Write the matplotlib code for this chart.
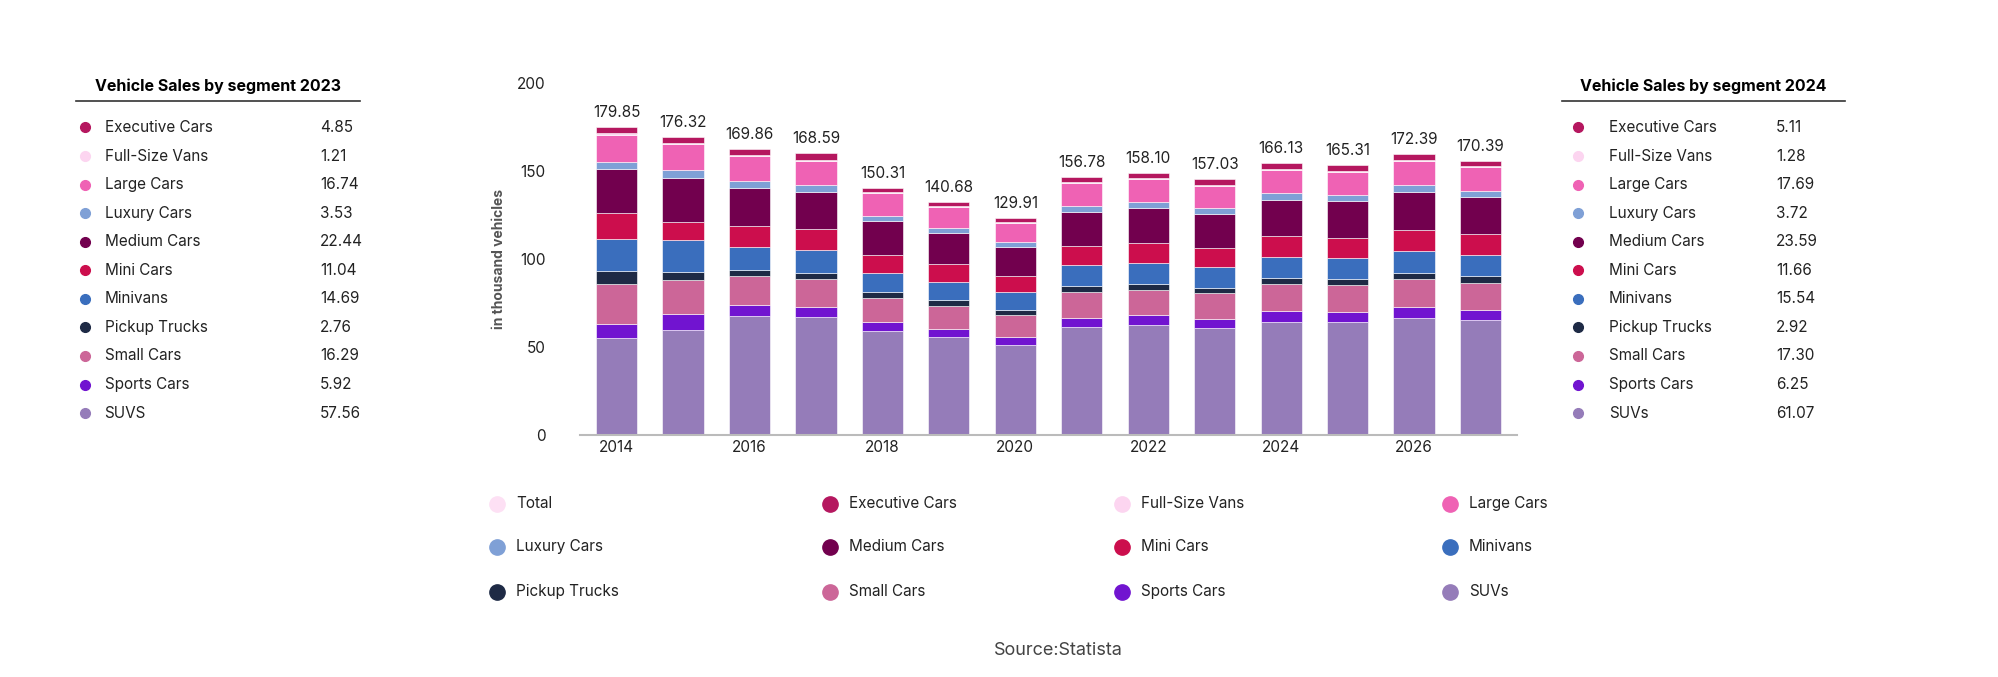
import matplotlib.pyplot as plt
import numpy as np

plt.rcParams['font.family'] = ['Inter', 'DejaVu Sans']

years = list(range(2014, 2028))
totals = ["179.85","176.32","169.86","168.59","150.31","140.68","129.91","156.78","158.10","157.03","166.13","165.31","172.39","170.39"]
segments = ["SUVs","Sports Cars","Small Cars","Pickup Trucks","Minivans","Mini Cars","Medium Cars","Luxury Cars","Large Cars","Full-Size Vans","Executive Cars"]
suvs     = [55.0,59.8,67.7,66.8,58.8,55.4,51.2,61.1,62.4,60.5,64.3,63.9,66.6,65.1]
sports   = [8.0,8.9,6.3,5.9,5.3,4.9,4.6,5.5,5.5,5.5,5.9,5.9,6.1,5.7]
small    = [22.8,19.2,16.1,15.9,13.7,13.1,12.3,14.6,14.6,14.4,15.4,15.2,15.7,15.6]
pickup   = [7.2,4.6,3.6,3.4,3.2,3.0,2.7,3.2,3.4,3.0,3.4,3.4,3.4,3.6]
minivans = [18.0,18.4,13.1,12.9,11.2,10.6,10.1,12.0,11.8,12.0,12.3,12.1,12.7,12.3]
mini     = [15.2,9.9,12.0,11.8,10.2,9.9,9.1,10.6,11.2,10.6,11.4,11.6,12.0,12.0]
medium   = [24.7,25.4,21.6,21.4,19.0,17.5,16.5,19.7,19.9,19.4,20.7,20.5,21.6,20.7]
luxury   = [4.2,4.2,3.8,3.8,3.2,3.2,2.8,3.4,3.6,3.4,3.8,3.6,3.8,3.4]
large    = [15.4,14.8,14.2,13.7,12.7,11.8,11.0,13.1,12.7,12.7,13.3,13.3,13.7,13.7]
fullsize = [0.8,0.8,0.8,0.8,0.6,0.6,0.6,0.6,0.6,0.6,0.6,0.6,0.8,0.8]
execs    = [3.4,3.4,3.4,3.6,2.5,2.5,2.5,2.8,3.2,3.0,3.4,3.2,3.4,2.8]
series = [suvs,sports,small,pickup,minivans,mini,medium,luxury,large,fullsize,execs]
colors = {"SUVs":"#957cb9","Sports Cars":"#7114d0","Small Cars":"#cc6698","Pickup Trucks":"#1e2a45",
          "Minivans":"#3a6ebd","Mini Cars":"#cc0e4d","Medium Cars":"#72004e","Luxury Cars":"#7fa0d6",
          "Large Cars":"#ef62b4","Full-Size Vans":"#fcd5f0","Executive Cars":"#b5175f","Total":"#fde0f4"}

t23_names = ["Executive Cars","Full-Size Vans","Large Cars","Luxury Cars","Medium Cars","Mini Cars","Minivans","Pickup Trucks","Small Cars","Sports Cars","SUVS"]
t23_vals = ["4.85","1.21","16.74","3.53","22.44","11.04","14.69","2.76","16.29","5.92","57.56"]
t24_names = ["Executive Cars","Full-Size Vans","Large Cars","Luxury Cars","Medium Cars","Mini Cars","Minivans","Pickup Trucks","Small Cars","Sports Cars","SUVs"]
t24_vals = ["5.11","1.28","17.69","3.72","23.59","11.66","15.54","2.92","17.30","6.25","61.07"]
legend_items = ["Total","Executive Cars","Full-Size Vans","Large Cars","Luxury Cars","Medium Cars","Mini Cars","Minivans","Pickup Trucks","Small Cars","Sports Cars","SUVs"]

W, H = 1568.0, 531.0
fx = lambda x: x / W
fy = lambda y: 1 - y / H

fig = plt.figure(figsize=(19.99, 6.77), dpi=100)
ax = fig.add_axes([fx(455), fy(341), fx(1190) - fx(455), fy(65) - fy(341)])
x = np.arange(len(years))
bottom = np.zeros(len(years))
for name, vals in zip(segments, series):
    ax.bar(x, vals, bottom=bottom, width=0.62, color=colors[name], edgecolor='white', linewidth=0.4)
    bottom += np.array(vals)
for i, t in enumerate(totals):
    ax.text(x[i], bottom[i] + 4, t, ha='center', va='bottom', fontsize=11, color='#222222')
ax.set_ylim(0, 200)
ax.set_xlim(-0.55, len(years) - 0.45)
ax.set_yticks([0, 50, 100, 150, 200])
ax.set_xticks(x[::2])
ax.set_xticklabels([str(y) for y in years[::2]])
ax.tick_params(length=0, labelsize=11, colors='#222222')
ax.tick_params(axis='y', pad=25)
for s in ['top', 'right', 'left']:
    ax.spines[s].set_visible(False)
ax.spines['bottom'].set_color('#bbbbbb')
ax.spines['bottom'].set_linewidth(1.5)
ax.set_ylabel('in thousand vehicles', fontsize=10, fontweight='bold', color='#555555', labelpad=8)

def table(x0, x1, dotx, labx, valx, title, names, vals):
    fig.text(fx((x0 + x1) / 2), fy(68), title, ha='center', va='center', fontsize=11.5, fontweight='bold')
    fig.add_artist(plt.Line2D([fx(x0), fx(x1)], [fy(79), fy(79)], color='#333333', lw=1.2))
    for i, (n, v) in enumerate(zip(names, vals)):
        y = 100 + i * 22.4
        key = "SUVs" if n.upper() == "SUVS" else n
        fig.add_artist(plt.Line2D([fx(dotx)], [fy(y)], marker='o', ms=7, color=colors[key], lw=0))
        fig.text(fx(labx), fy(y), n, ha='left', va='center', fontsize=11, color='#222222')
        fig.text(fx(valx), fy(y), v, ha='left', va='center', fontsize=11, color='#222222')

table(60, 282, 67, 82, 251, "Vehicle Sales by segment 2023", t23_names, t23_vals)
table(1225, 1447, 1238, 1262, 1393, "Vehicle Sales by segment 2024", t24_names, t24_vals)

colx = [390, 651, 880, 1137]
rowy = [395, 429, 464]
for i, n in enumerate(legend_items):
    cx, cy = colx[i % 4], rowy[i // 4]
    fig.add_artist(plt.Line2D([fx(cx)], [fy(cy)], marker='o', ms=11, color=colors[n], lw=0))
    fig.text(fx(cx + 15), fy(cy), n, ha='left', va='center', fontsize=11, color='#222222')

fig.text(fx(830), fy(510), 'Source:Statista', ha='center', va='center', fontsize=13, color='#444444')
fig.savefig('out.png', dpi=100, facecolor='white')
